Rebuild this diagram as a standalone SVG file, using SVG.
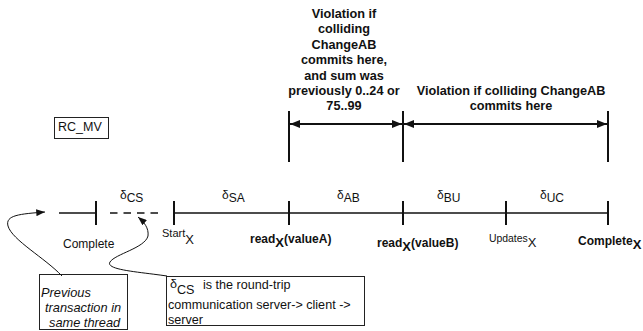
<svg xmlns="http://www.w3.org/2000/svg" width="643" height="331" viewBox="0 0 643 331">
  <style>
    text { font-family: "Liberation Sans", Arial, Helvetica, sans-serif; fill: #111; }
    .t12 { font-size: 12px; }
    .b12 { font-size: 12px; font-weight: bold; }
    .head { font-size: 12.7px; font-weight: bold; text-anchor: middle; }
    .note { font-size: 12.6px; }
    .it { font-size: 12.8px; font-style: italic; }
    .sm { font-size: 11px; }
    .sub { font-size: 13px; }
    .box { fill: #fff; stroke: #222; stroke-width: 1; }
    .axis { stroke: #111; stroke-width: 1.6; fill: none; }
    .tick { stroke: #111; stroke-width: 2; }
    .span { stroke: #111; stroke-width: 2; fill: none; }
    .curve { stroke: #111; stroke-width: 1; fill: none; }
  </style>
  <defs>
    <marker id="ah" viewBox="0 0 10 8" refX="10" refY="4" markerWidth="10" markerHeight="8" markerUnits="userSpaceOnUse" orient="auto-start-reverse">
      <path d="M0,0 L10,4 L0,8 z" fill="#111"/>
    </marker>
    <marker id="ahs" viewBox="0 0 10 8" refX="10" refY="4" markerWidth="9" markerHeight="7" markerUnits="userSpaceOnUse" orient="auto">
      <path d="M0,0 L10,4 L0,8 z" fill="#111"/>
    </marker>
  </defs>

  <!-- label box -->
  <g id="rc-mv">
    <rect class="box" x="54.5" y="117.5" width="54" height="21"/>
    <text class="t12" x="58" y="130.5" style="font-size:12.5px">RC_MV</text>
  </g>

  <!-- violation windows -->
  <g id="window-ab">
    <text class="head" x="344" y="17.5">Violation if</text>
    <text class="head" x="344" y="33">colliding</text>
    <text class="head" x="344" y="48.5">ChangeAB</text>
    <text class="head" x="344" y="64">commits here,</text>
    <text class="head" x="344" y="79.5">and sum was</text>
    <text class="head" x="344" y="94.5">previously 0..24 or</text>
    <text class="head" x="344" y="110">75..99</text>
  </g>
  <g id="window-bc">
    <text class="head" x="511" y="94.5">Violation if colliding ChangeAB</text>
    <text class="head" x="511" y="110">commits here</text>
  </g>

  <!-- time axis -->
  <g id="axis">
    <line class="axis" x1="59" y1="213" x2="96" y2="213"/>
    <line class="axis" x1="110" y1="213" x2="160" y2="213" stroke-dasharray="7.5 6"/>
    <line class="axis" x1="174" y1="213" x2="608" y2="213"/>
  </g>

  <!-- interval labels -->
  <g id="intervals">
    <text class="t12" x="120" y="198.5">δ<tspan dy="3.5">CS</tspan></text>
    <text class="t12" x="222" y="198.5">δ<tspan dy="3.5">SA</tspan></text>
    <text class="t12" x="337" y="198.5">δ<tspan dy="3.5">AB</tspan></text>
    <text class="t12" x="437" y="198.5">δ<tspan dy="3.5">BU</tspan></text>
    <text class="t12" x="540" y="198.5">δ<tspan dy="3.5">UC</tspan></text>
  </g>

  <!-- events -->
  <g id="ev-complete-prev">
    <line class="tick" x1="96" y1="201" x2="96" y2="225"/>
    <text class="t12" x="63" y="247.5">Complete</text>
  </g>
  <g id="ev-start">
    <line class="tick" x1="174" y1="201" x2="174" y2="225"/>
    <text class="sm" x="162" y="237">Start<tspan class="sub" dy="7">X</tspan></text>
  </g>
  <g id="ev-read-a">
    <line class="tick" x1="289" y1="201" x2="289" y2="225"/>
    <line class="tick" x1="289" y1="111" x2="289" y2="162"/>
    <text class="b12" x="250" y="243">read<tspan class="sub" dy="4">X</tspan><tspan dy="-4">(valueA)</tspan></text>
  </g>
  <g id="ev-read-b">
    <line class="tick" x1="403" y1="201" x2="403" y2="225"/>
    <line class="tick" x1="403" y1="111" x2="403" y2="162"/>
    <text class="b12" x="377" y="247">read<tspan class="sub" dy="4">X</tspan><tspan dy="-4">(valueB)</tspan></text>
  </g>
  <g id="ev-updates">
    <line class="tick" x1="506" y1="201" x2="506" y2="225"/>
    <text class="sm" x="489" y="242" style="font-size:10.4px">Updates<tspan class="sub" dy="5">X</tspan></text>
  </g>
  <g id="ev-complete">
    <line class="tick" x1="608" y1="201" x2="608" y2="225"/>
    <line class="tick" x1="608" y1="111" x2="608" y2="162"/>
    <text class="b12" x="578" y="245">Complete<tspan class="sub" dy="4">X</tspan></text>
  </g>

  <!-- notes -->
  <g id="note-previous">
    <rect class="box" x="39.5" y="274.5" width="88" height="55"/>
    <text class="it" x="41" y="296.5">Previous</text>
    <text class="it" x="45" y="312">transaction in</text>
    <text class="it" x="49" y="326.5">same thread</text>
  </g>
  <g id="note-cs">
    <rect class="box" x="166.5" y="276.5" width="198" height="49"/>
    <text class="note" x="170" y="288">δ<tspan dy="6">CS</tspan></text>
    <text class="note" x="203" y="288.5">is the round-trip</text>
    <text class="note" x="168" y="309">communication server-&gt; client -&gt;</text>
    <text class="note" x="168" y="323.5">server</text>
  </g>

  <!-- connectors -->
  <g id="connectors">
    <line class="span" x1="290" y1="124" x2="402" y2="124" marker-start="url(#ah)" marker-end="url(#ah)"/>
    <line class="span" x1="404" y1="124" x2="607" y2="124" marker-start="url(#ah)" marker-end="url(#ah)"/>
    <path class="curve" d="M62,276 C45,258 12,240 8,226 C5,215 20,214 45,212" marker-end="url(#ahs)"/>
    <path class="curve" d="M167,276 C140,272 105,270 110,262 C115,254 145,248 148,236 C149,228 144,222 138,217" marker-end="url(#ahs)"/>
  </g>
</svg>
